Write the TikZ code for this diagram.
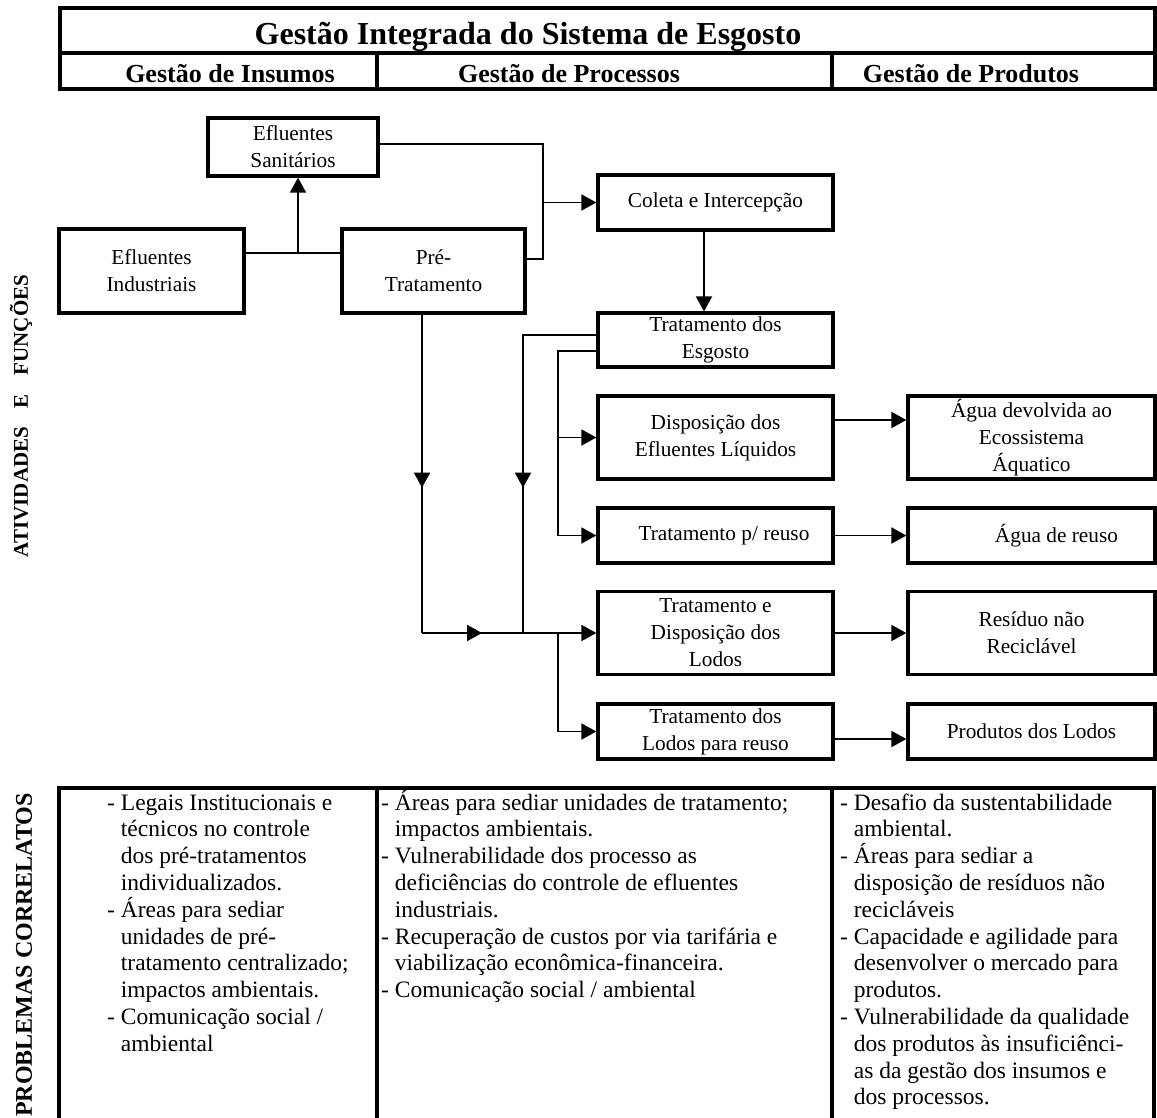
\documentclass[tikz,border=0pt]{standalone}
\usepackage{fontspec}
\setmainfont{Liberation Serif}
\usetikzlibrary{arrows.meta,decorations.markings}

\newcommand\tbfont{\fontsize{23.5}{26.8}\selectfont}
\newcommand\tabcont{\hphantom{- }}

\tikzset{
  x=1pt, y=-1pt,
  frame/.style={line width=3.2pt},
  box/.style={draw, line width=3.3pt, inner sep=0pt, align=center,
    font=\fontsize{21.3}{27}\selectfont},
  lbox/.style={box, minimum width=235pt},
  rbox/.style={box, minimum width=247pt},
  conn/.style={line width=1.9pt},
  tip/.style={conn, -{Triangle[length=15pt,width=16pt]}},
  midtip/.style={postaction={decorate}, decoration={markings,
    mark=at position #1 with {\arrow{Triangle[length=15pt,width=16pt]}}}},
  headfont/.style={font=\fontsize{26}{30}\selectfont\bfseries},
  sidefont/.style={font=\fontsize{21}{24}\selectfont\bfseries},
}

\begin{document}
\begin{tikzpicture}
\useasboundingbox (0,0) rectangle (1157,1117);

% title block
\draw[frame] (60,8) rectangle (1155,89);
\draw[frame] (60,53) -- (1155,53);
\draw[frame] (377,53) -- (377,89);
\draw[frame] (832,53) -- (832,89);
\node[anchor=base, font=\fontsize{32}{36}\selectfont\bfseries] (title) at (528,44)
  {Gestão Integrada do Sistema de Esgosto};
\node[anchor=base, headfont] (hins) at (230,82) {Gestão de Insumos};
\node[anchor=base, headfont] (hpro) at (569,82) {Gestão de Processos};
\node[anchor=base, headfont] (hprd) at (971,82) {Gestão de Produtos};

% side captions
\node[rotate=90, sidefont] (sideA) at (21,416)
  {ATIVIDADES\hspace{0.9em}E\hspace{0.9em}FUNÇÕES};
\node[rotate=90, font=\fontsize{24}{28}\selectfont\bfseries] (sideB) at (24,955)
  {PROBLEMAS CORRELATOS};

% inputs
\node[box, minimum width=170pt, minimum height=58pt] (san) at (293,147) {Efluentes\\Sanitários};
\node[box, minimum width=185pt, minimum height=84pt] (ind) at (151.5,271) {Efluentes\\Industriais};
\node[box, minimum width=183pt, minimum height=84pt] (pre) at (433.5,271) {Pré-\\Tratamento};

% processes
\node[lbox, minimum height=55pt] (col) at (715.5,202.5) {Coleta e Intercepção};
\node[lbox, minimum height=54pt] (esg) at (715.5,340) {Tratamento dos\\Esgosto};
\node[lbox, minimum height=83pt] (dis) at (715.5,437.5) {Disposição dos\\Efluentes Líquidos};
\node[lbox, minimum height=55pt] (reu) at (715.5,535.5) {\hspace*{17pt}Tratamento p/ reuso};
\node[lbox, minimum height=83pt] (lod) at (715.5,633) {Tratamento e\\Disposição dos\\Lodos};
\node[lbox, minimum height=55pt] (lre) at (715.5,731.5) {Tratamento dos\\Lodos para reuso};

% products
\node[rbox, minimum height=83pt] (agua) at (1031.5,437.5) {Água devolvida ao\\Ecossistema\\Áquatico};
\node[rbox, minimum height=55pt] (aguareu) at (1031.5,535.5) {\hspace*{50pt}Água de reuso};
\node[rbox, minimum height=83pt] (res) at (1031.5,633) {Resíduo não\\Reciclável};
\node[rbox, minimum height=55pt] (prod) at (1031.5,731.5) {Produtos dos Lodos};

% junction points
\coordinate (j1) at (298,253);
\coordinate (bus) at (543,259);
\coordinate (p1) at (422,633);
\coordinate (q1) at (523,633);
\coordinate (r1) at (558,535.5);
\coordinate (q2) at (558,633);

% input connections
\draw[conn] (ind.east |- j1) -- (pre.west |- j1);
\draw[tip] (j1) -- (san.south -| j1);
\draw[conn] ([yshift=3pt]san.east) -| (bus) -- (pre.east |- bus);
\draw[tip] (bus |- col.west) -- (col.west);
\draw[tip] ([xshift=-11.5pt]col.south) -- ([xshift=-11.5pt]esg.north);

% sludge line
\draw[conn, midtip=173pt] (pre.south -| p1) -- (p1);
\draw[tip, midtip=60pt] (p1) -- (lod.west);
\draw[conn, midtip=226pt] ([yshift=5pt]esg.west) -| (q1);
\draw[tip] (q2) |- (lre.west);

% liquid line
\draw[tip] ([yshift=-11pt]esg.west) -| (r1) -- (reu.west);
\draw[tip] (r1 |- dis.west) -- (dis.west);

% outputs
\draw[tip] ([yshift=17.5pt]dis.east) -- ([yshift=17.5pt]agua.west);
\draw[tip] (reu.east) -- (aguareu.west);
\draw[tip] (lod.east) -- (res.west);
\draw[tip] ([yshift=-7.5pt]lre.east) -- ([yshift=-7.5pt]prod.west);

% problems table
\draw[frame, line width=3.6pt] (59,1122) -- (59,788) -- (1154,788) -- (1154,1122);
\draw[frame, line width=3.6pt] (377,788) -- (377,1122);
\draw[frame, line width=3.6pt] (832,788) -- (832,1122);

\node[anchor=base west, inner sep=0pt] (pins) at (107,810) {\parbox[t]{400pt}{\tbfont\raggedright
- Legais Institucionais e\\
\tabcont técnicos no controle\\
\tabcont dos pré-tratamentos\\
\tabcont individualizados.\\
- Áreas para sediar\\
\tabcont unidades de pré-\\
\tabcont tratamento centralizado;\\
\tabcont impactos ambientais.\\
- Comunicação social /\\
\tabcont ambiental}};

\node[anchor=base west, inner sep=0pt] (ppro) at (381,810) {\parbox[t]{500pt}{\tbfont\raggedright
- Áreas para sediar unidades de tratamento;\\
\tabcont impactos ambientais.\\
- Vulnerabilidade dos processo as\\
\tabcont deficiências do controle de efluentes\\
\tabcont industriais.\\
- Recuperação de custos por via tarifária e\\
\tabcont viabilização econômica-financeira.\\
- Comunicação social / ambiental}};

\node[anchor=base west, inner sep=0pt] (pprd) at (840,810) {\parbox[t]{400pt}{\tbfont\raggedright
- Desafio da sustentabilidade\\
\tabcont ambiental.\\
- Áreas para sediar a\\
\tabcont disposição de resíduos não\\
\tabcont recicláveis\\
- Capacidade e agilidade para\\
\tabcont desenvolver o mercado para\\
\tabcont produtos.\\
- Vulnerabilidade da qualidade\\
\tabcont dos produtos às insuficiênci-\\
\tabcont as da gestão dos insumos e\\
\tabcont dos processos.}};
\end{tikzpicture}
\end{document}
